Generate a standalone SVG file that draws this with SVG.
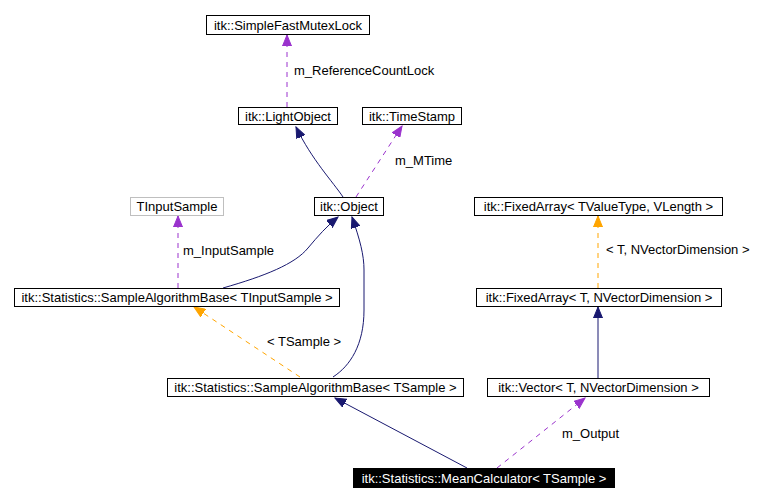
<svg xmlns="http://www.w3.org/2000/svg" width="772" height="502" viewBox="0 0 772 502">
<style>
.n rect{fill:#ffffff;stroke:#000000;stroke-width:1}
.n text{font-family:"Liberation Sans",Arial,sans-serif;font-size:13px;fill:#000000;text-anchor:middle}
.g rect{stroke:#bfbfbf}
.b rect{fill:#000000}
.b text{fill:#ffffff}
.e{fill:none;stroke-width:1}
.nv{stroke:#191970}
.pu{stroke:#9a32cd;stroke-dasharray:5,5}
.or{stroke:#ffa500;stroke-dasharray:5,5}
.lbl{font-family:"Liberation Sans",Arial,sans-serif;font-size:13px;fill:#000000}
</style>
<defs>
<marker id="aN" markerUnits="userSpaceOnUse" markerWidth="12" markerHeight="10" refX="11" refY="5" orient="auto"><path d="M0,0.5 L11,5 L0,9.5 z" fill="#191970" stroke="#191970"/></marker>
<marker id="aP" markerUnits="userSpaceOnUse" markerWidth="12" markerHeight="10" refX="11" refY="5" orient="auto"><path d="M0,0.5 L11,5 L0,9.5 z" fill="#9a32cd" stroke="#9a32cd"/></marker>
<marker id="aO" markerUnits="userSpaceOnUse" markerWidth="12" markerHeight="10" refX="11" refY="5" orient="auto"><path d="M0,0.5 L11,5 L0,9.5 z" fill="#ffa500" stroke="#ffa500"/></marker>
</defs>
<rect width="772" height="502" fill="#ffffff"/>
<g id="edges">
<path class="e pu" d="M287,107 L287,35" marker-end="url(#aP)"/>
<path class="e nv" d="M343,197 C333,182 312,160 296,127" marker-end="url(#aN)"/>
<path class="e pu" d="M356,197 L402,126" marker-end="url(#aP)"/>
<path class="e pu" d="M178,288 L178,216" marker-end="url(#aP)"/>
<path class="e nv" d="M223,288 C265,276 295,264 308,248 C318,236 327,226 338,217" marker-end="url(#aN)"/>
<path class="e nv" d="M333,377 C350,366 364,345 364,310 L364,270 C364,255 360,240 352,217" marker-end="url(#aN)"/>
<path class="e or" d="M300,377 L194,307" marker-end="url(#aO)"/>
<path class="e or" d="M598,288 L598,216" marker-end="url(#aO)"/>
<path class="e nv" d="M598,378 L598,307" marker-end="url(#aN)"/>
<path class="e nv" d="M467,468 L335,398" marker-end="url(#aN)"/>
<path class="e pu" d="M497,468 L585,398" marker-end="url(#aP)"/>
<text class="lbl" x="294" y="75">m_ReferenceCountLock</text>
<text class="lbl" x="395" y="165">m_MTime</text>
<text class="lbl" x="183" y="255">m_InputSample</text>
<text class="lbl" x="267" y="346">&lt; TSample &gt;</text>
<text class="lbl" x="606" y="254">&lt; T, NVectorDimension &gt;</text>
<text class="lbl" x="562" y="438">m_Output</text>
</g>
<g id="n_mutex" class="n"><rect x="206.5" y="15.5" width="163" height="19"/><text x="288" y="29.5">itk::SimpleFastMutexLock</text></g>
<g id="n_light" class="n"><rect x="238.5" y="107.5" width="99" height="17"/><text x="288" y="120.5">itk::LightObject</text></g>
<g id="n_time" class="n"><rect x="362.5" y="107.5" width="99" height="17"/><text x="412" y="120.5">itk::TimeStamp</text></g>
<g id="n_obj" class="n"><rect x="314.5" y="197.5" width="69" height="18"/><text x="349" y="211">itk::Object</text></g>
<g id="n_tin" class="n g"><rect x="130.5" y="197.5" width="93" height="18"/><text x="177" y="211">TInputSample</text></g>
<g id="n_sabin" class="n"><rect x="14.5" y="288.5" width="325" height="18"/><text x="177" y="302">itk::Statistics::SampleAlgorithmBase&lt; TInputSample &gt;</text></g>
<g id="n_sab" class="n"><rect x="167.5" y="378.5" width="296" height="18"/><text x="315.5" y="392">itk::Statistics::SampleAlgorithmBase&lt; TSample &gt;</text></g>
<g id="n_fa1" class="n"><rect x="474.5" y="197.5" width="248" height="18"/><text x="598.5" y="211">itk::FixedArray&lt; TValueType, VLength &gt;</text></g>
<g id="n_fa2" class="n"><rect x="476.5" y="288.5" width="245" height="18"/><text x="599" y="302">itk::FixedArray&lt; T, NVectorDimension &gt;</text></g>
<g id="n_vec" class="n"><rect x="487.5" y="378.5" width="222" height="18"/><text x="598.5" y="392">itk::Vector&lt; T, NVectorDimension &gt;</text></g>
<g id="n_mean" class="n b"><rect x="353.5" y="468.5" width="261" height="19"/><text x="484" y="482.5">itk::Statistics::MeanCalculator&lt; TSample &gt;</text></g>
</svg>
